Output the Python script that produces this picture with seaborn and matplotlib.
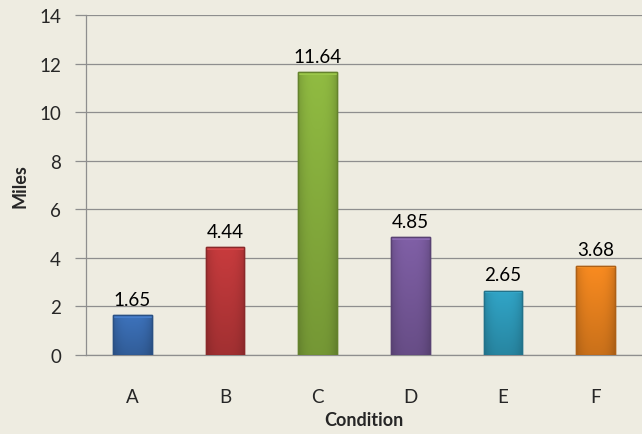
import numpy as np
import pandas as pd
import matplotlib
matplotlib.use("Agg")
import matplotlib.pyplot as plt
import matplotlib.colors as mcolors
import seaborn as sns

conditions = ["A", "B", "C", "D", "E", "F"]
miles = [1.65, 4.44, 11.64, 4.85, 2.65, 3.68]
bar_colors = ["#3B6FB6", "#C0393B", "#8BB43F", "#7B5CA0", "#2F9FC0", "#F0861F"]
y_ticks = [0, 2, 4, 6, 8, 10, 12, 14]

sns.set_theme(style="white")
plt.rcParams["font.family"] = ["Lato", "DejaVu Sans"]

bg = "#EEECE1"
grid_c = "#8E8E8E"
fs = 13.5

df = pd.DataFrame({"Condition": conditions, "Miles": miles})

fig = plt.figure(figsize=(6.42, 4.35), dpi=100, facecolor=bg)
ax = fig.add_axes([0.134, 0.182, 0.866, 0.781])
ax.set_facecolor(bg)

sns.barplot(data=df, x="Condition", y="Miles", hue="Condition",
            palette=bar_colors, width=0.42, legend=False, ax=ax,
            saturation=1, zorder=3)

# shaded fill for each bar: lighter centre, darker sides and base
for patch, col in zip(ax.patches, bar_colors):
    x0, y0 = patch.get_x(), patch.get_y()
    w, h = patch.get_width(), patch.get_height()
    base = np.array(mcolors.to_rgb(col))
    nx, ny = 60, 120
    xs = np.linspace(-1, 1, nx)
    ys = np.linspace(0, 1, ny)[:, None]
    side = 1 - 0.16 * np.abs(xs) ** 3
    vert = 0.84 + 0.2 * ys
    fac = side[None, :] * vert
    img = np.clip(base[None, None, :] * fac[:, :, None], 0, 1)
    im = ax.imshow(img, extent=[x0, x0 + w, y0, y0 + h], origin="lower",
                   aspect="auto", zorder=3.5, interpolation="bilinear")
    im.set_clip_path(patch)
    patch.set_edgecolor(tuple(base * 0.75))
    patch.set_linewidth(1.0)
    # soft bevel highlight along the top edge
    ax.add_patch(plt.Rectangle((x0, y0 + h - 0.12), w, 0.12,
                               facecolor=tuple(np.clip(base * 1.07 + 0.03, 0, 1)),
                               edgecolor="none", zorder=3.6))
    ax.add_patch(plt.Rectangle((x0, y0), w, h, facecolor="none",
                               edgecolor=tuple(base * 0.72), linewidth=1.0,
                               zorder=3.7))

for i, v in enumerate(miles):
    ax.text(i, v + 0.3, f"{v:.2f}", ha="center", va="bottom",
            fontsize=fs, color="#000000", zorder=5)

ax.set_xlim(-0.5, 5.5)
ax.set_ylim(0, 14)
ax.set_yticks(y_ticks)
ax.set_yticklabels([str(t) for t in y_ticks], fontsize=fs)
ax.yaxis.grid(True, color=grid_c, linewidth=0.9, zorder=0)
ax.set_axisbelow(True)

ax.set_xticks(range(len(conditions)))
ax.set_xticklabels(conditions, fontsize=fs)
ax.tick_params(axis="x", length=0, pad=24)
ax.set_xticks(np.arange(-0.5, 6.0, 1.0), minor=True)
ax.tick_params(axis="x", which="minor", length=8, color=grid_c, width=0.9)
ax.tick_params(axis="y", length=8, color=grid_c, width=0.9, pad=10,
               left=True)

for s in ["top", "right"]:
    ax.spines[s].set_visible(False)
for s in ["left", "bottom"]:
    ax.spines[s].set_color(grid_c)
    ax.spines[s].set_linewidth(0.9)

ax.set_xlabel("Condition", fontsize=fs - 0.5, fontweight="bold", labelpad=4)
ax.set_ylabel("Miles", fontsize=fs - 0.5, fontweight="bold", labelpad=8)

fig.savefig("out.png", dpi=100, facecolor=bg)
